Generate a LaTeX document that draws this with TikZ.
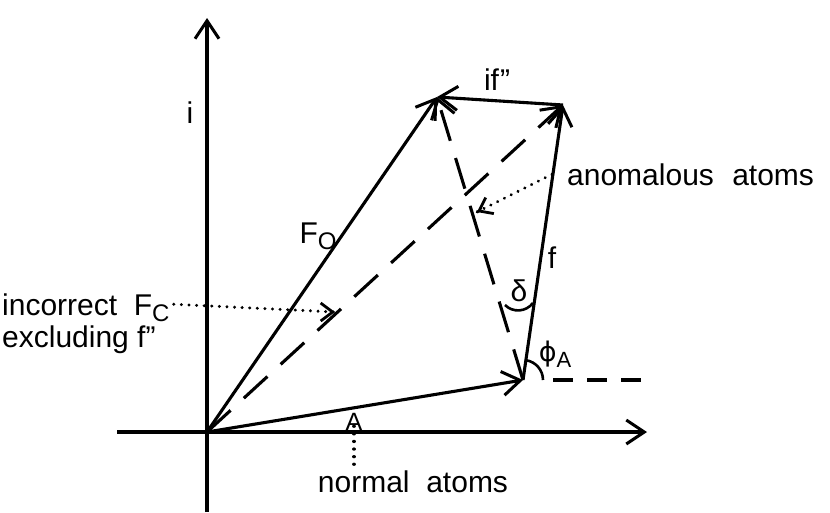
\documentclass[tikz,border=0pt]{standalone}
\usepackage{fontspec}
\setmainfont{Liberation Sans}
\newfontfamily\djv{DejaVu Sans}
\usetikzlibrary{arrows.meta,calc}
\begin{document}
\begin{tikzpicture}[x=1pt,y=-1pt,
  tip/.style={-{Straight Barb[length=18pt,width=24pt,line width=3pt]}},
  vec/.style={line width=3.1pt,tip},
  dashvec/.style={vec,dash pattern=on 32pt off 18pt},
  leader/.style={line width=3.2pt,dash pattern=on 0.1pt off 7.5pt,line cap=round},
  ltip/.style={-{Straight Barb[length=12pt,width=18pt,line width=2.8pt]}},
  lab/.style={font=\fontsize{30}{34}\selectfont,inner sep=0pt},
  slab/.style={font=\fontsize{25}{30}\selectfont,inner sep=0pt}]
\useasboundingbox (0,0) rectangle (830,512);
\coordinate (O) at (207,432);
\coordinate (A) at (523,380);
\coordinate (F) at (437,97);
\coordinate (P) at (563,105);
\coordinate (xl) at (117,432);
\coordinate (xr) at (647,432);
\coordinate (yb) at (207,512);
\coordinate (yt) at (207,18);
% axes
\draw[vec] (xl) -- (xr);
\draw[vec] (yb) -- (yt);
% vectors
\draw[vec] (O) -- (A);
\draw[vec] (O) -- (F);
\draw[vec] (A) -- (P);
\draw[vec] (P) -- (F);
\draw[dashvec] (O) -- (P);
\draw[dashvec] (A) -- (F);
% horizontal dashed reference
\coordinate (h1) at (553,380);
\coordinate (h2) at (643,380);
\draw[line width=3.1pt,dash pattern=on 20pt off 14pt] (h1) -- (h2);
% angles
\draw[line width=2.6pt] ([shift={(0:20)}]A) arc[start angle=0,end angle=-81.7,radius=20];
\coordinate (d1) at (505,305);
\coordinate (d2) at (533,303);
\draw[line width=2.6pt] (d1) .. controls (513,313) and (526,312) .. (d2);
% labels
\node[lab] (li) at (190,113) {i};
\node[lab,anchor=base] (lF) at (318,243) {F\raisebox{-6pt}{\fontsize{24}{24}\selectfont O}};
\node[lab,anchor=base] (lif) at (497,90) {if\kern1pt''};
\node[lab,anchor=base] (lf) at (552,268) {f};
\node[lab,anchor=base] (ld) at (519,301) {δ};
\node[lab,anchor=base] (lphi) at (555,361) {{\djv\fontsize{27}{30}\selectfont ϕ}\raisebox{-6pt}{\fontsize{22}{22}\selectfont A}};
\node[slab,anchor=base] (lA) at (354,430) {A};
% annotations
\node[lab,anchor=base west] (anom) at (567,185) {anomalous\hspace{10pt} atoms};
\node[lab,anchor=base] (norm) at (413,492) {normal\ \ atoms};
\node[lab,anchor=base west] (inc) at (2,315) {incorrect\ \ F\raisebox{-6pt}{\fontsize{24}{24}\selectfont C}};
\node[lab,anchor=base west] (exc) at (2,347) {excluding f''};
\coordinate (anomEnd) at (477,212);
\coordinate (incEnd) at (335,312);
\draw[leader] (anom.west) ++(-15,0) coordinate (anomStart) -- (anomEnd);
\draw[line width=2.8pt,ltip] ($(anomEnd)!0.01!(anomStart)$) -- (anomEnd);
\draw[leader] (inc.east) ++(4,-3) coordinate (incStart) -- (incEnd);
\draw[line width=2.8pt,ltip] ([xshift=-2pt]incEnd) -- (incEnd);
\draw[leader] ([yshift=4pt]lA.south) -- (lA.south |- norm.north);
\end{tikzpicture}
\end{document}
